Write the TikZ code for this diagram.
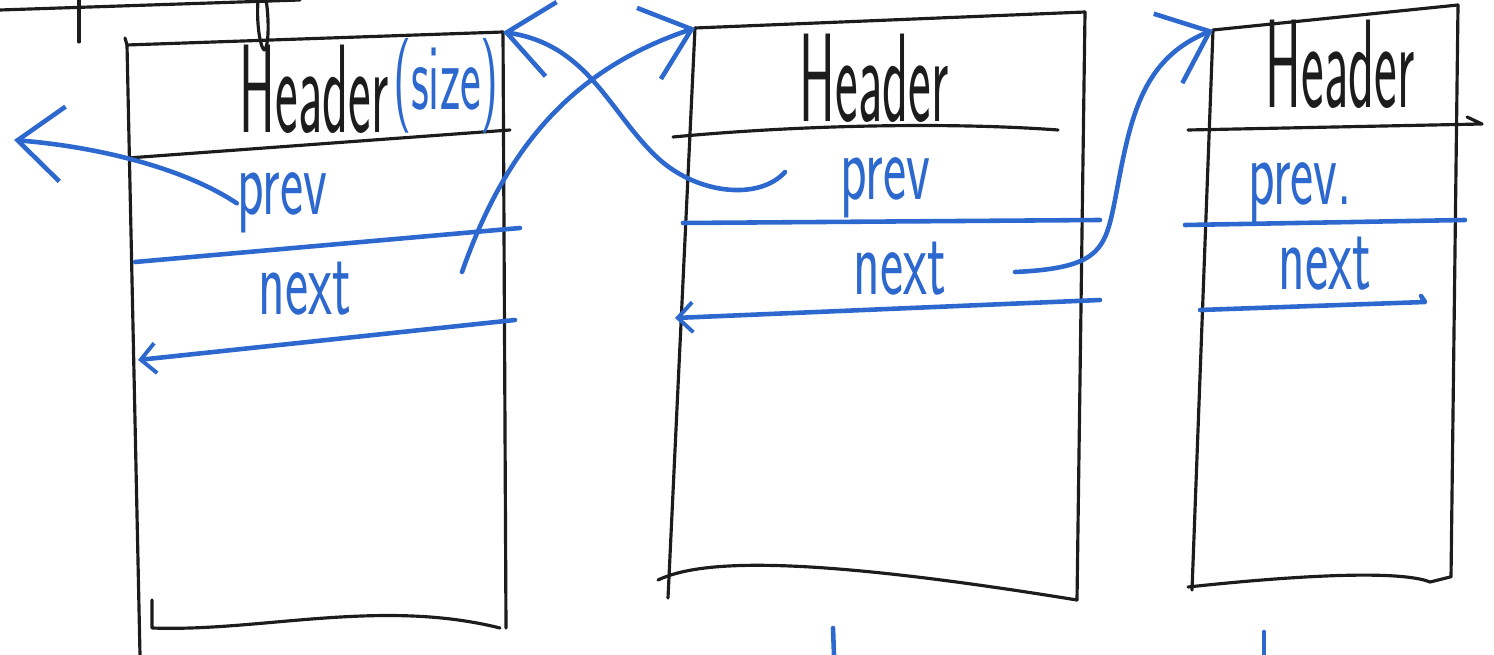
\documentclass[tikz,border=0pt]{standalone}
\usepackage{tikz}
\usetikzlibrary{arrows.meta}

\definecolor{inkblue}{RGB}{44,104,206}
\definecolor{inkblack}{RGB}{28,28,28}

\begin{document}
\begin{tikzpicture}[
    x=0.01cm, y=-0.01cm,
    edge/.style={inkblack, line width=0.9pt, line cap=round, line join=round},
    ptr/.style={inkblue, line width=1.3pt, line cap=round, line join=round},
    arr/.style={ptr, -{Straight Barb[length=4.5mm, width=7.5mm, line width=1.3pt]}},
    back/.style={ptr, -{Straight Barb[length=1.5mm, width=3mm, line width=1.1pt]}},
    hdr/.style={inkblack, font=\fontsize{32}{32}\selectfont\sffamily, xscale=0.48, yscale=1.12, anchor=base, inner sep=0pt},
    fld/.style={inkblue, font=\fontsize{27}{27}\selectfont\sffamily, xscale=0.58, anchor=base, inner sep=0pt},
    note/.style={inkblue, font=\fontsize{27}{27}\selectfont\sffamily, xscale=0.52, anchor=base, inner sep=0pt}
]
\useasboundingbox (0,0) rectangle (1494,655);

% strokes left over from the line above
\draw[edge] (0,10) -- (300,0);
\draw[edge] (79,0) -- (79,42);
\draw[edge] (258,0) .. controls (256,30) and (262,52) .. (265,50) .. controls (270,40) and (268,10) .. (266,0);

% Block A
\coordinate (A-tl) at (127,45);
\coordinate (A-tr) at (503,32);
\draw[edge] (A-tl) -- (A-tr);
\draw[edge] (125,38) -- (A-tl) -- (140,655);
\draw[edge] (A-tr) -- (506,628);
\draw[edge] (152,600) -- (152,628) .. controls (260,632) and (380,598) .. (500,628);
\draw[edge] (128,158) -- (510,130);
\draw[ptr] (135,262) -- (520,228);
\draw[back] (515,320) -- (138,360);

\node[hdr] (hA) at (314,133) {Header};
\node[note] (sA) at (446,110) {(size)};
\node[fld] (pA) at (282,215) {prev};
\node[fld] (nA) at (305,315) {next};

% Block B
\coordinate (B-tl) at (695,28);
\coordinate (B-tr) at (1085,12);
\draw[edge] (B-tl) -- (B-tr);
\draw[edge] (B-tl) -- (668,598);
\draw[edge] (B-tr) -- (1077,600);
\draw[edge] (658,580) .. controls (700,560) and (800,555) .. (1077,600);
\draw[edge] (673,137) .. controls (800,125) and (950,122) .. (1058,130);
\draw[ptr] (683,223) -- (1100,220);
\draw[back] (1100,300) -- (675,318);

\node[hdr] (hB) at (874,122) {Header};
\node[fld] (pB) at (885,200) {prev};
\node[fld] (nB) at (900,295) {next};

% Block C
\coordinate (C-tl) at (1213,30);
\coordinate (C-tr) at (1458,5);
\draw[edge] (C-tl) -- (C-tr);
\draw[edge] (C-tl) -- (1192,590);
\draw[edge] (C-tr) -- (1451,577);
\draw[edge] (1188,587) .. controls (1300,575) and (1400,570) .. (1430,582) -- (1450,577);
\draw[edge] (1188,130) -- (1482,124) -- (1467,117);
\draw[ptr] (1185,225) -- (1465,220);
\draw[ptr] (1200,310) -- (1425,302) -- (1421,296);

\node[hdr] (hC) at (1340,108) {Header};
\node[fld] (pC) at (1300,205) {prev.};
\node[fld] (nC) at (1325,290) {next};

% free-list pointers
\coordinate (pA-out) at (14,140);
\coordinate (nA-src) at (462,272);
\coordinate (pB-src) at (785,172);
\coordinate (nB-src) at (1015,272);

\draw[arr] (pA.west) .. controls (190,172) and (110,148) .. (pA-out);
\draw[arr] (nA-src) .. controls (505,150) and (570,70) .. (B-tl);
\draw[arr] (pB-src) .. controls (760,200) and (700,195) .. (660,160)
    .. controls (610,115) and (590,45) .. (A-tr);
\draw[arr] (nB-src) .. controls (1100,268) and (1105,250) .. (1115,200)
    .. controls (1130,120) and (1140,60) .. (C-tl);

% marks below the blocks
\draw[ptr] (833,628) -- (834,655);
\draw[ptr] (1264,632) -- (1264,655);

\end{tikzpicture}
\end{document}
